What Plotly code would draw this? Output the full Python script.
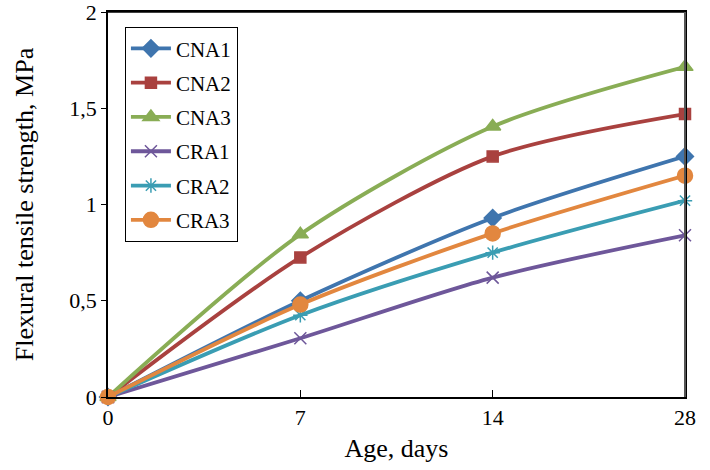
import plotly.graph_objects as go

ages = ["0", "7", "14", "28"]
series_names = ["CNA1", "CNA2", "CNA3", "CRA1", "CRA2", "CRA3"]
CNA1 = [0, 0.50, 0.93, 1.25]
CNA2 = [0, 0.725, 1.25, 1.47]
CNA3 = [0, 0.845, 1.405, 1.715]
CRA1 = [0, 0.305, 0.62, 0.84]
CRA2 = [0, 0.425, 0.75, 1.02]
CRA3 = [0, 0.48, 0.85, 1.15]
values = [CNA1, CNA2, CNA3, CRA1, CRA2, CRA3]

colors = ["#3F75AE", "#A9413F", "#89AD55", "#6E579A", "#3A9DB3", "#E2873F"]
symbols = ["diamond", "square", "triangle-up", "x-thin", "asterisk", "circle"]
sizes = [13, 11, 14, 12, 12, 15]

fig = go.Figure()
for name, vals, col, sym, sz in zip(series_names, values, colors, symbols, sizes):
    fig.add_trace(go.Scatter(
        x=ages, y=vals, name=name, mode="lines+markers",
        line=dict(color=col, width=3.8, shape="spline", smoothing=0.8),
        marker=dict(symbol=sym, size=sz, color=col,
                    line=dict(color=col, width=1.5)),
        cliponaxis=False, legendgroup=name,
    ))

font_family = "Liberation Serif, Times New Roman, serif"
fig.update_layout(
    template="none",
    width=710, height=470,
    margin=dict(l=108, r=25, t=12, b=73),
    paper_bgcolor="white", plot_bgcolor="white",
    font=dict(family=font_family, color="black", size=22),
    showlegend=True,
    legend=dict(x=0.029, y=0.961, xanchor="left", yanchor="top",
                bordercolor="black", borderwidth=1.2, bgcolor="white",
                font=dict(size=21, family=font_family),
                tracegroupgap=4, itemwidth=40),
    xaxis=dict(type="category", range=[0, 3], showgrid=False, automargin=False,
               showline=True, linecolor="black", linewidth=1.5, mirror=True,
               ticks="inside", ticklen=7, tickcolor="black",
               tickfont=dict(size=22), ticklabeloverflow="allow",
               title=dict(text="Age, days", font=dict(size=26), standoff=10)),
    yaxis=dict(range=[0, 2], dtick=0.5, showgrid=False, zeroline=False,
               automargin=False, ticklabeloverflow="allow",
               showline=True, linecolor="black", linewidth=1.5, mirror=True,
               ticks="outside", ticklen=5, tickcolor="black",
               tickfont=dict(size=22),
               title=dict(text="Flexural tensile strength, MPa",
                          font=dict(size=26), standoff=28)),
    separators=", ",
)
fig.add_shape(type="line", xref="paper", yref="paper", x0=0, x1=1, y0=1, y1=1,
              line=dict(color="black", width=1.5))
fig.add_shape(type="line", xref="paper", yref="paper", x0=1, x1=1, y0=0, y1=1,
              line=dict(color="#555555", width=2))
fig.write_html("out.html")
